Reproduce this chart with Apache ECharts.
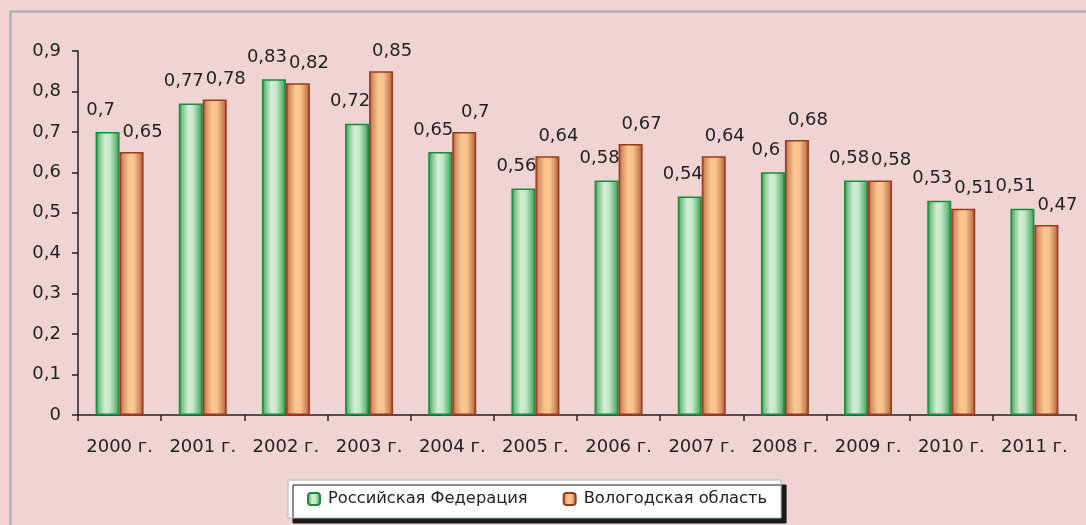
<!DOCTYPE html>
<html>
<head>
<meta charset="utf-8">
<script src="https://cdn.jsdelivr.net/npm/echarts@6/dist/echarts.min.js"></script>
<style>
html,body{margin:0;padding:0;background:#F0D4D4;}
#c{width:1086px;height:525px;}
</style>
</head>
<body>
<div id="c"></div>
<script>
var categories = ['2000 г.','2001 г.','2002 г.','2003 г.','2004 г.','2005 г.','2006 г.','2007 г.','2008 г.','2009 г.','2010 г.','2011 г.'];
var seriesNames = ['Российская Федерация','Вологодская область'];
var rfValues = [0.7, 0.77, 0.83, 0.72, 0.65, 0.56, 0.58, 0.54, 0.6, 0.58, 0.53, 0.51];
var vologdaValues = [0.65, 0.78, 0.82, 0.85, 0.7, 0.64, 0.67, 0.64, 0.68, 0.58, 0.51, 0.47];
var yTicks = [0, 0.1, 0.2, 0.3, 0.4, 0.5, 0.6, 0.7, 0.8, 0.9];

var FONT = '"DejaVu Sans", "Noto Sans", sans-serif';
function fmt(v){ return String(v).replace('.', ','); }

var greenGrad = new echarts.graphic.LinearGradient(0,0,1,0,[
  {offset:0, color:'#1d8a3e'},
  {offset:0.15, color:'#7cc58e'},
  {offset:0.4, color:'#d4eed6'},
  {offset:0.6, color:'#c4e6c8'},
  {offset:0.85, color:'#6cba80'},
  {offset:1, color:'#2a9248'}
]);
var orangeGrad = new echarts.graphic.LinearGradient(0,0,1,0,[
  {offset:0, color:'#a5502e'},
  {offset:0.15, color:'#d99468'},
  {offset:0.4, color:'#fac790'},
  {offset:0.6, color:'#f8c48c'},
  {offset:0.85, color:'#cf8659'},
  {offset:1, color:'#a3462a'}
]);

var chart = echarts.init(document.getElementById('c'), null, {renderer:'canvas'});
chart.setOption({
  backgroundColor:'#F0D4D4',
  animation:false,
  graphic:[
    {type:'rect', shape:{x:10.5,y:11.5,width:1090,height:530}, style:{fill:'none', stroke:'#a8a8a8', lineWidth:2}, z:-1}
  ],
  grid:{left:78, right:10, top:51, bottom:110, containLabel:false},
  legend:{
    data:seriesNames,
    left:288, top:480,
    backgroundColor:'#ffffff',
    borderColor:'#b0b0b0', borderWidth:1,
    shadowColor:'#1a1a1a', shadowOffsetX:5, shadowOffsetY:5, shadowBlur:0,
    padding:[11,14,11,19],
    itemWidth:12, itemHeight:12, itemGap:35,
    textStyle:{fontFamily:FONT, fontSize:16.3, color:'#222', padding:[0,0,0,3]}
  },
  xAxis:{
    type:'category', data:categories,
    axisLine:{lineStyle:{color:'#222', width:1.5}},
    axisTick:{show:true, length:6, lineStyle:{color:'#222', width:1.5}},
    axisLabel:{interval:0, fontFamily:FONT, fontSize:18, color:'#222', margin:23}
  },
  yAxis:{
    type:'value', min:0, max:0.9, interval:0.1,
    axisLine:{show:true, lineStyle:{color:'#222', width:1.5}},
    axisTick:{show:true, length:6, lineStyle:{color:'#222', width:1.5}},
    splitLine:{show:false},
    axisLabel:{fontFamily:FONT, fontSize:18, color:'#222', margin:17,
      formatter:function(v){ return fmt(Math.round(v*10)/10); }}
  },
  series:[
    {
      name:seriesNames[0], type:'bar', data:rfValues,
      barWidth:24, barGap:'0%',
      itemStyle:{color:greenGrad, borderColor:'#1b8a3c', borderWidth:1.5},
      label:{show:true, position:'top', distance:13, offset:[-7,0], fontFamily:FONT, fontSize:18, color:'#222',
        formatter:function(p){ return fmt(p.value); }}
    },
    {
      name:seriesNames[1], type:'bar', data:vologdaValues,
      barWidth:24, barGap:'0%',
      itemStyle:{color:orangeGrad, borderColor:'#9b3a1e', borderWidth:1.5},
      label:{show:true, position:'top', distance:11, offset:[11,0], fontFamily:FONT, fontSize:18, color:'#222',
        formatter:function(p){ return fmt(p.value); }}
    }
  ]
});
</script>
</body>
</html>
